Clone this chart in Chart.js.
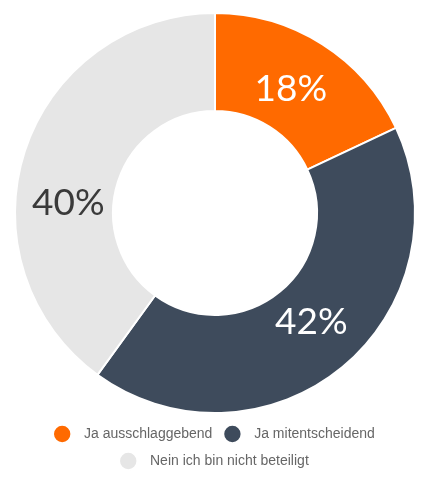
<!DOCTYPE html>
<html>
<head>
<meta charset="utf-8">
<script src="https://cdn.jsdelivr.net/npm/chart.js@4"></script>
<style>
  html, body { margin: 0; padding: 0; background: #ffffff; }
  #wrap { width: 428px; height: 478px; position: relative; }
</style>
</head>
<body>
<div id="wrap"><canvas id="chart"></canvas></div>
<script>
// Daten
const categories = ['Ja ausschlaggebend', 'Ja mitentscheidend', 'Nein ich bin nicht beteiligt'];
const values = [18, 42, 40];
const sliceColors = ['#ff6a00', '#3e4b5c', '#e6e6e6'];
const labelColors = ['#ffffff', '#ffffff', '#3a3a3a'];

// Prozent-Labels auf den Segmenten
const sliceLabels = {
    id: 'sliceLabels',
    afterDatasetsDraw(chart, args, opts) {
        const ctx = chart.ctx;
        const meta = chart.getDatasetMeta(0);
        ctx.save();
        ctx.font = '37px Lato';
        ctx.textAlign = 'center';
        ctx.textBaseline = 'middle';
        meta.data.forEach((arc, i) => {
            const p = arc.getCenterPoint();
            const shift = opts.shift[i] || [0, 0];
            ctx.fillStyle = labelColors[i];
            ctx.fillText(values[i] + '%', p.x + shift[0], p.y + shift[1]);
        });
        ctx.restore();
    }
};

new Chart(document.getElementById('chart'), {
    type: 'doughnut',
    data: {
        labels: categories,
        datasets: [{
            data: values,
            backgroundColor: sliceColors,
            borderColor: '#ffffff',
            borderWidth: 2,
            cutout: '51%'
        }]
    },
    options: {
        responsive: true,
        maintainAspectRatio: false,
        animation: false,
        layout: { padding: { top: 12, bottom: 0, left: 2, right: 0 } },
        plugins: {
            tooltip: { enabled: false },
            sliceLabels: { shift: [[-5, 4], [0, -7], [-3, 37]] },
            legend: {
                position: 'bottom',
                labels: {
                    usePointStyle: true,
                    pointStyle: 'circle',
                    boxHeight: 13,
                    color: '#666666',
                    padding: 13,
                    font: { family: 'Liberation Sans, Arial, sans-serif', size: 14 },
                    generateLabels(chart) {
                        const items = Chart.overrides.doughnut.plugins.legend.labels.generateLabels(chart);
                        // etwas mehr Abstand zwischen Punkt und Text
                        items.forEach(it => { it.text = '  ' + it.text; });
                        return items;
                    }
                }
            }
        }
    },
    plugins: [sliceLabels]
});
</script>
</body>
</html>
